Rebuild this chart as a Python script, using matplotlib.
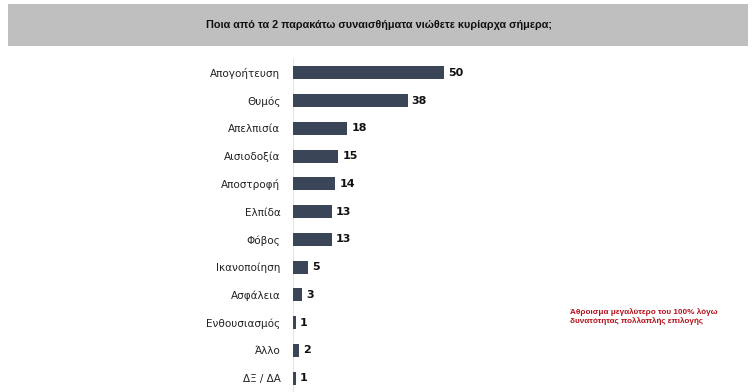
import matplotlib
matplotlib.use("Agg")
import matplotlib.pyplot as plt
from matplotlib.patches import Rectangle

categories = ["Απογοήτευση", "Θυμός", "Απελπισία", "Αισιοδοξία", "Αποστροφή", "Ελπίδα",
              "Φόβος", "Ικανοποίηση", "Ασφάλεια", "Ενθουσιασμός", "Άλλο", "ΔΞ / ΔΑ"]
values = [50, 38, 18, 15, 14, 13, 13, 5, 3, 1, 2, 1]
title = "Ποια από τα 2 παρακάτω συναισθήματα νιώθετε κυρίαρχα σήμερα;"
note = "Άθροισμα μεγαλύτερο του 100% λόγω\nδυνατότητας πολλαπλής επιλογής"

plt.rcParams['font.family'] = ['DejaVu Sans']

W, H = 756, 392
fig = plt.figure(figsize=(W / 100, H / 100), dpi=100)
fig.patch.set_facecolor("white")

# header band
fig.patches.append(Rectangle((8 / W, 1 - 46 / H), 740 / W, 42 / H, transform=fig.transFigure,
                             facecolor="#bfbfbf", edgecolor="none", zorder=0))
fig.text(379 / W, 1 - 25 / H, title, ha="center", va="center", fontsize=7.8,
         fontweight="bold", color="#111111", family=["Liberation Sans", "DejaVu Sans"])

ax = fig.add_axes([293 / W, 0, 453 / W, 333 / H])
ypos = list(range(len(categories)))
ax.barh(ypos, values, height=0.47, color="#3a4558")
ax.set_xlim(0, 150)
ax.set_ylim(len(categories) - 0.5, -0.5)
for s in ax.spines.values():
    s.set_visible(False)
ax.axvline(0, color="#e4e4e4", lw=0.8, zorder=0)
ax.set_xticks([])
ax.set_yticks(ypos)
ax.set_yticklabels(categories, fontsize=7.5, color="#222222")
ax.tick_params(axis="y", length=0, pad=9)
ax.set_facecolor("none")
for y, v in zip(ypos, values):
    ax.text(v + 1.3, y, str(v), va="center", ha="left", fontsize=8, fontweight="bold",
            color="#111111")

fig.text(570 / W, 1 - 317 / H, note, ha="left", va="center", fontsize=5.9,
         fontweight="bold", color="#b5121b", linespacing=1.2,
         family=["Liberation Sans", "DejaVu Sans"])

fig.savefig("out.png", dpi=100)
